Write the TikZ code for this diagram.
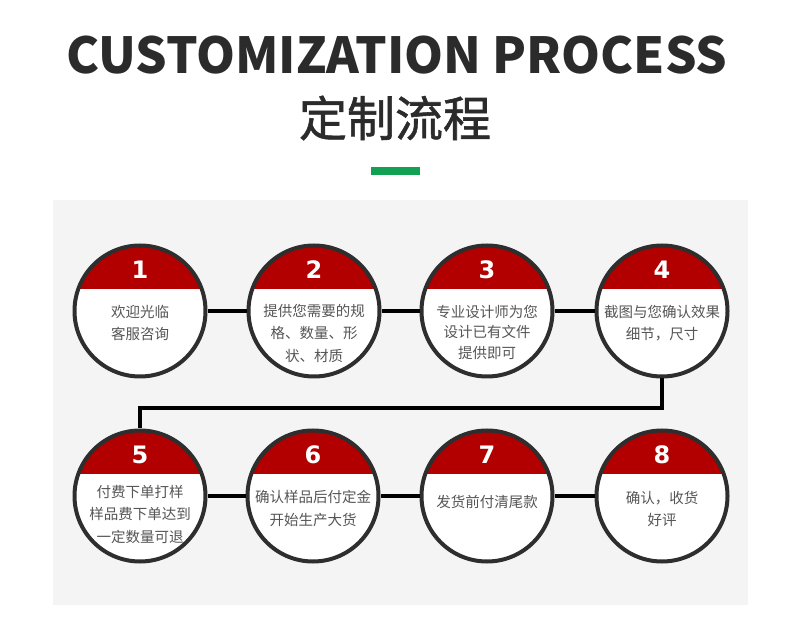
\documentclass[tikz,border=0pt]{standalone}
\usepackage{fontspec}
\newfontfamily\cjk{Noto Sans CJK SC}
\newfontfamily\cjkmed[BoldFont=Noto Sans CJK SC, BoldFeatures={FakeBold=1.2}]{Noto Sans CJK SC}
\newfontfamily\numfont{DejaVu Sans}
\usetikzlibrary{calc,positioning}
\definecolor{capred}{HTML}{B20000}
\definecolor{ringgray}{HTML}{2E2E2E}
\definecolor{txtgray}{HTML}{555555}
\definecolor{titlegray}{HTML}{2B2B2B}
\definecolor{panelgray}{HTML}{F4F4F4}
\definecolor{accgreen}{HTML}{12A052}
\tikzset{
  stepcirc/.style={draw=ringgray, line width=4pt, circle, minimum size=131pt, inner sep=0pt, fill=white,
    path picture={\fill[capred] (path picture bounding box.north west) rectangle ([yshift=22pt]path picture bounding box.east);}},
  stepnum/.style={font=\numfont\bfseries\fontsize{24}{24}\selectfont, text=white, inner sep=0pt},
  steptxt/.style={font=\cjk\fontsize{14.5}{22.5}\selectfont, text=txtgray, align=center, anchor=north, inner sep=0pt},
  link/.style={line width=4pt, draw=black},
}
\begin{document}
\begin{tikzpicture}[x=1pt,y=-1pt]
\useasboundingbox[fill=white] (0,0) rectangle (790,617);
% heading
\node[font=\cjk\bfseries\fontsize{49.6}{50}\selectfont, text=titlegray, inner sep=0pt] (ttl) at (397,55) {CUSTOMIZATION PROCESS};
\node[font=\cjkmed\bfseries\fontsize{48}{48}\selectfont, text=titlegray, inner sep=0pt] (sub) at (395,118) {定制流程};
\node[fill=accgreen, minimum width=49pt, minimum height=8pt, inner sep=0pt] (bar) at (395.5,171) {};
\fill[panelgray] (53,200) rectangle (748,605);
% first row
\node[stepcirc] (c1) at (140,311) {};
\node[stepnum] (n1) at ([yshift=41pt]c1.center) {1};
\node[steptxt] (t1) at ([yshift=6pt]c1.center) {欢迎光临\\客服咨询};
\node[stepcirc] (c2) at (314,311) {};
\node[stepnum] (n2) at ([yshift=41pt]c2.center) {2};
\node[steptxt] (t2) at ([yshift=7pt]c2.center) {提供您需要的规\\格、数量、形\\状、材质};
\node[stepcirc] (c3) at (487,311) {};
\node[stepnum] (n3) at ([yshift=41pt]c3.center) {3};
\node[steptxt, font=\cjk\fontsize{14.5}{20.5}\selectfont] (t3) at ([yshift=6pt]c3.center) {专业设计师为您\\设计已有文件\\提供即可};
\node[stepcirc] (c4) at (662,311) {};
\node[stepnum] (n4) at ([yshift=41pt]c4.center) {4};
\node[steptxt] (t4) at ([yshift=6pt]c4.center) {截图与您确认效果\\细节，尺寸};
% second row
\node[stepcirc] (c5) at (140,496) {};
\node[stepnum] (n5) at ([yshift=41pt]c5.center) {5};
\node[steptxt] (t5) at ([yshift=11pt]c5.center) {付费下单打样\\样品费下单达到\\一定数量可退};
\node[stepcirc] (c6) at (313,496) {};
\node[stepnum] (n6) at ([yshift=41pt]c6.center) {6};
\node[steptxt] (t6) at ([yshift=6pt]c6.center) {确认样品后付定金\\开始生产大货};
\node[stepcirc] (c7) at (487,496) {};
\node[stepnum] (n7) at ([yshift=41pt]c7.center) {7};
\node[steptxt] (t7) at ([yshift=1pt]c7.center) {发货前付清尾款};
\node[stepcirc] (c8) at (662,496) {};
\node[stepnum] (n8) at ([yshift=41pt]c8.center) {8};
\node[steptxt] (t8) at ([yshift=5pt]c8.center) {确认，收货\\好评};
% links
\draw[link] (c1) -- (c2);
\draw[link] (c2) -- (c3);
\draw[link] (c3) -- (c4);
\draw[link] (c5) -- (c6);
\draw[link] (c6) -- (c7);
\draw[link] (c7) -- (c8);
\coordinate (turn) at (400,408);
\draw[link] (c4.south) -- (c4.south |- turn) -| (c5.north);
\end{tikzpicture}
\end{document}
